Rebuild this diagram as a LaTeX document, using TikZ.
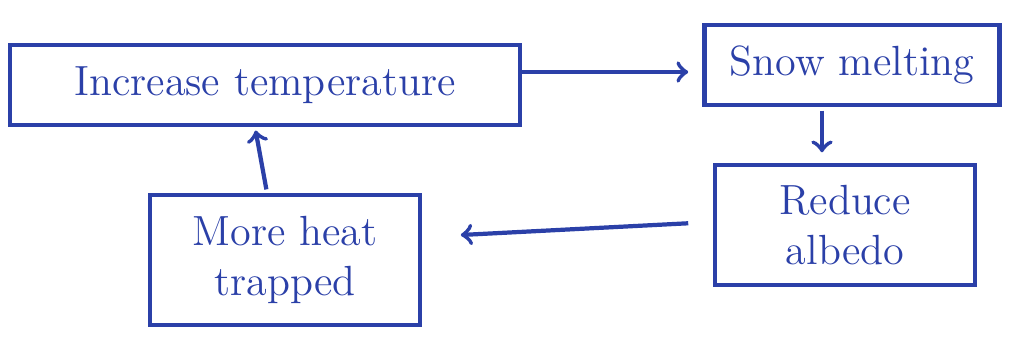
\documentclass[tikz,border=0pt]{standalone}
\usetikzlibrary{arrows,calc}
\definecolor{InkClr}{rgb}{0.17,0.25,0.66}

\begin{document}
\begin{tikzpicture}[x=0.01cm,y=-0.01cm,
  stepbox/.style={draw=InkClr,line width=1.2pt,text=InkClr,font=\large,
    align=center,inner sep=2pt},
  flow/.style={->,draw=InkClr,line width=1.2pt}]
\useasboundingbox (0,0) rectangle (1017,339);

\node[stepbox,minimum width=5.1cm,minimum height=0.8cm] (inc) at (265,85) {Increase temperature};
\node[stepbox,minimum width=2.95cm,minimum height=0.8cm] (snow) at (852,65) {Snow melting};
\node[stepbox,minimum width=2.6cm,minimum height=1.2cm] (alb) at (845,225) {Reduce\\albedo};
\node[stepbox,minimum width=2.7cm,minimum height=1.3cm] (heat) at (285,260) {More heat\\trapped};

\coordinate (melt) at ($(snow.south)+(-30,0)$);

\draw[flow,shorten >=4pt] (inc.east|-0,72) -- (snow.west|-0,72);
\draw[flow,shorten <=1pt,shorten >=3pt] (melt) -- (melt|-alb.north);
\draw[flow,shorten <=7pt,shorten >=11pt] ($(alb.west)+(0,-3)$) -- ($(heat.east)+(0,-23)$);
\draw[flow,shorten <=1pt,shorten >=1pt] ($(heat.north)+(-18,0)$) -- ($(inc.south)+(-10,0)$);

\end{tikzpicture}
\end{document}
